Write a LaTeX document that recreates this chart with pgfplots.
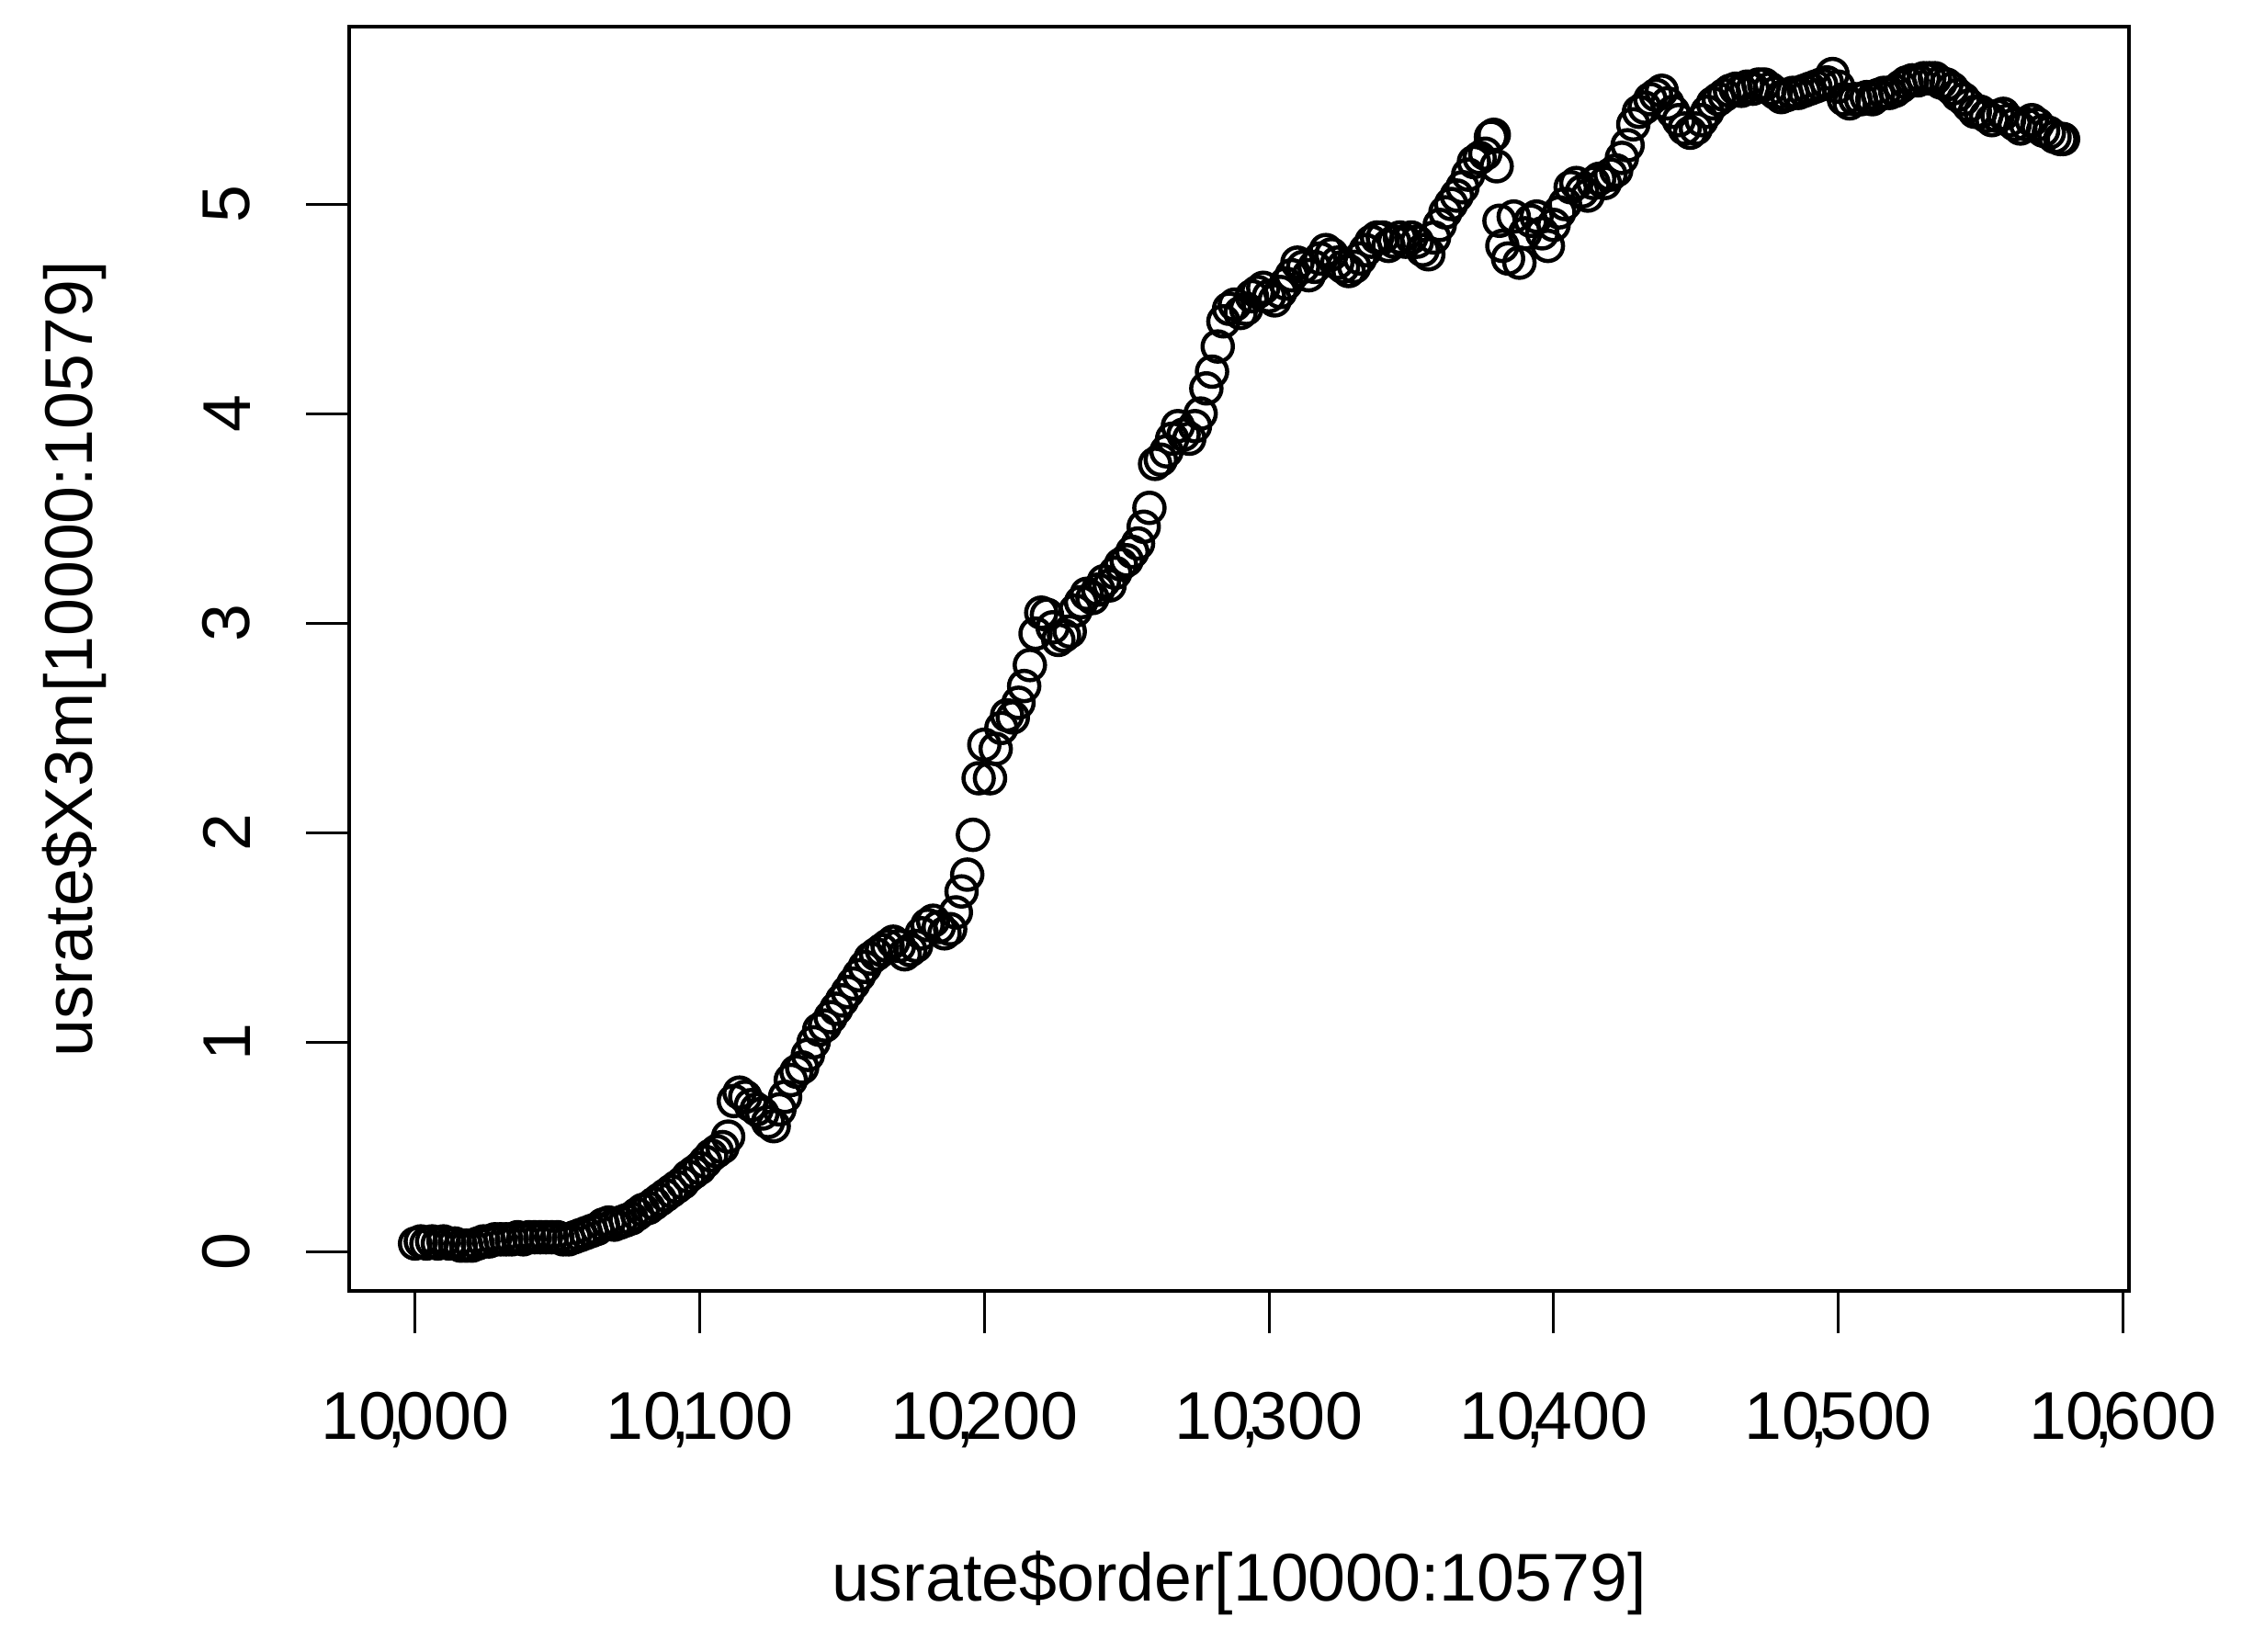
\documentclass[border=0pt]{standalone}
\usepackage{fontspec}
\setmainfont{Liberation Sans}
\usepackage{pgfplots}
\pgfplotsset{compat=1.18}
\begin{document}
\begin{tikzpicture}[font=\fontsize{14.7}{17.6}\selectfont]
\pgfplotsset{
  every axis x label/.style={at={(axis description cs:0.5,0)}, yshift=-67.6pt, anchor=base, inner sep=0pt},
  every axis y label/.style={at={(axis description cs:0,0.5)}, xshift=-55.8pt, rotate=90, anchor=base, inner sep=0pt},
}
\begin{axis}[
  scale only axis, width=387.4pt, height=275pt,
  xmin=9976.84, xmax=10602.16, ymin=-0.184, ymax=5.844,
  xtick={10000,10100,10200,10300,10400,10500,10600},
  ytick={0,1,2,3,4,5},
  scaled ticks=false,
  xtick pos=bottom, ytick pos=left,
  tick align=outside, major tick length=9.3pt,
  minor tick num=0,
  axis line style={line width=0.8pt},
  tick style={line width=0.6pt, black},
  /pgf/number format/assume math mode=true,
  /pgf/number format/1000 sep={\makebox[0pt]{,}},
  xticklabel style={font=\fontsize{14.7}{17.6}\selectfont, anchor=north, inner sep=0pt, yshift=-12.7pt},
  yticklabel style={font=\fontsize{14.7}{17.6}\selectfont, xshift=-12pt, rotate=90, anchor=south, inner sep=0pt},
  xlabel={usrate\$order[10000:10579]},
  ylabel={usrate\$X3m[10000:10579]},
  label style={font=\fontsize{14.7}{17.6}\selectfont},
  clip=false,
]
\addplot[only marks, mark=o, mark size=3.3pt, mark options={line width=0.9pt, black}] table {
x y
10000 0.04
10002 0.05
10004 0.04
10006 0.05
10008 0.04
10010 0.05
10012 0.04
10014 0.04
10016 0.03
10018 0.03
10020 0.03
10022 0.04
10024 0.05
10026 0.05
10028 0.06
10030 0.06
10032 0.06
10034 0.06
10036 0.07
10038 0.06
10040 0.07
10042 0.07
10044 0.07
10046 0.07
10048 0.07
10050 0.07
10052 0.06
10054 0.06
10056 0.07
10058 0.08
10060 0.09
10062 0.10
10064 0.11
10066 0.13
10068 0.14
10070 0.13
10072 0.14
10074 0.15
10076 0.16
10078 0.18
10080 0.20
10082 0.21
10084 0.23
10086 0.25
10088 0.27
10090 0.29
10092 0.31
10094 0.33
10096 0.36
10098 0.38
10100 0.40
10102 0.43
10104 0.46
10106 0.48
10108 0.50
10110 0.55
10112 0.72
10114 0.76
10116 0.74
10118 0.70
10120 0.68
10122 0.66
10124 0.62
10126 0.60
10128 0.68
10130 0.74
10132 0.82
10134 0.86
10136 0.88
10138 0.94
10140 1.00
10142 1.06
10144 1.08
10146 1.12
10148 1.16
10150 1.20
10152 1.24
10154 1.28
10156 1.32
10158 1.36
10160 1.40
10162 1.42
10164 1.44
10166 1.46
10168 1.48
10170 1.46
10172 1.42
10174 1.44
10176 1.46
10178 1.52
10180 1.56
10182 1.58
10184 1.55
10186 1.52
10188 1.54
10190 1.62
10192 1.72
10194 1.80
10196 1.99
10198 2.26
10200 2.42
10202 2.26
10204 2.40
10206 2.50
10208 2.56
10210 2.55
10212 2.62
10214 2.70
10216 2.80
10218 2.95
10220 3.05
10222 3.04
10224 2.98
10226 2.92
10228 2.94
10230 2.96
10232 3.06
10234 3.10
10236 3.14
10238 3.12
10240 3.16
10242 3.20
10244 3.18
10246 3.24
10248 3.28
10250 3.30
10252 3.34
10254 3.38
10256 3.46
10258 3.55
10260 3.76
10262 3.78
10264 3.82
10266 3.88
10268 3.94
10270 3.90
10272 3.88
10274 3.94
10276 4.00
10278 4.12
10280 4.20
10282 4.32
10284 4.44
10286 4.50
10288 4.52
10290 4.48
10292 4.50
10294 4.56
10296 4.58
10298 4.60
10300 4.56
10302 4.54
10304 4.58
10306 4.62
10308 4.66
10310 4.72
10312 4.70
10314 4.66
10316 4.70
10318 4.74
10320 4.78
10322 4.76
10324 4.72
10326 4.70
10328 4.68
10330 4.70
10332 4.74
10334 4.78
10336 4.82
10338 4.84
10340 4.84
10342 4.80
10344 4.82
10346 4.84
10348 4.82
10350 4.84
10352 4.82
10354 4.78
10356 4.76
10358 4.84
10360 4.90
10362 4.96
10364 5.00
10366 5.04
10368 5.08
10370 5.14
10372 5.20
10374 5.22
10376 5.24
10378 5.32
10379 5.33
10380 5.18
10381 4.92
10382 4.80
10384 4.74
10386 4.94
10388 4.72
10390 4.86
10392 4.92
10394 4.94
10396 4.86
10398 4.80
10400 4.90
10402 4.96
10404 5.00
10406 5.08
10408 5.10
10410 5.06
10412 5.04
10414 5.10
10416 5.12
10418 5.10
10420 5.14
10422 5.16
10424 5.22
10426 5.28
10428 5.38
10430 5.44
10432 5.46
10434 5.50
10436 5.52
10438 5.54
10440 5.48
10442 5.44
10444 5.40
10446 5.36
10448 5.34
10450 5.36
10452 5.40
10454 5.44
10456 5.48
10458 5.50
10460 5.52
10462 5.54
10464 5.55
10466 5.54
10468 5.56
10470 5.55
10472 5.57
10474 5.57
10476 5.55
10478 5.53
10480 5.51
10482 5.52
10484 5.53
10486 5.53
10488 5.54
10490 5.55
10492 5.56
10494 5.57
10496 5.58
10498 5.62
10500 5.56
10502 5.50
10504 5.48
10506 5.50
10508 5.50
10510 5.51
10512 5.50
10514 5.52
10516 5.53
10518 5.53
10520 5.54
10522 5.56
10524 5.58
10526 5.59
10528 5.59
10530 5.60
10532 5.60
10534 5.60
10536 5.58
10538 5.57
10540 5.55
10542 5.52
10544 5.50
10546 5.47
10548 5.44
10550 5.44
10552 5.42
10554 5.40
10556 5.42
10558 5.43
10560 5.40
10562 5.38
10564 5.36
10566 5.38
10568 5.40
10570 5.38
10572 5.35
10574 5.34
10576 5.32
10578 5.31
10579 5.31
};
\coordinate (ll) at (rel axis cs:0,0);
\coordinate (ur) at (rel axis cs:1,1);
\end{axis}
\pgfresetboundingbox
\path ([shift={(-76pt,-78.6pt)}]ll) rectangle ([shift={(24.6pt,5.9pt)}]ur);
\end{tikzpicture}
\end{document}
